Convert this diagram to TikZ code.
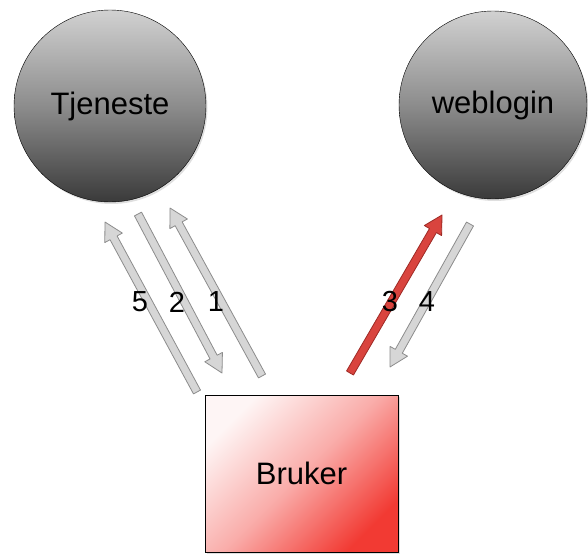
\documentclass[tikz,border=0pt]{standalone}
\usepackage[dvipsnames]{xcolor}
\usepackage{fontspec}
\setmainfont{Liberation Sans}
\usepackage{tikz}
\usetikzlibrary{calc,shadows}

\definecolor{ballgray}{HTML}{3A3A3A}
\definecolor{arrowfill}{HTML}{D6D6D6}
\definecolor{arrowedge}{HTML}{8C8C8C}
\definecolor{loginred}{HTML}{D9443E}
\definecolor{loginedge}{HTML}{9E2A25}
\definecolor{userred}{HTML}{F23A33}

\newcommand{\fatarrow}[4]{%
  \coordinate (fa-h) at ($(#2)!18pt!(#1)$);
  \filldraw[fill=#3, draw=#4, line width=0.8pt, line join=round]
    ($(#1)!4pt!90:(#2)$) -- ($(fa-h)!4pt!-90:(#1)$) -- ($(fa-h)!10pt!-90:(#1)$) -- (#2)
    -- ($(fa-h)!10pt!90:(#1)$) -- ($(fa-h)!4pt!90:(#1)$) -- ($(#1)!4pt!-90:(#2)$) -- cycle;
}

\tikzset{
  server/.style={circle, draw=black, thin, inner sep=0pt, minimum size=#1,
    top color=black!18, bottom color=ballgray, middle color=black!45,
    drop shadow={opacity=0.25, shadow xshift=1.5pt, shadow yshift=-2pt}},
  user/.style={rectangle, draw=black, thin, inner sep=0pt,
    minimum width=193pt, minimum height=157pt,
    top color=userred!5, bottom color=userred, middle color=userred!42, shading angle=45,
    drop shadow={opacity=0.25, shadow xshift=1.5pt, shadow yshift=-2pt}},
  bigtext/.style={font=\fontsize{31}{36}\selectfont},
  steplabel/.style={font=\fontsize{29}{34}\selectfont, inner sep=0pt}
}

\begin{document}
\begin{tikzpicture}[x=1pt, y=-1pt]
\useasboundingbox (0,0) rectangle (588,554);

\node[server=192pt, bigtext] (tjeneste) at (110,106) {Tjeneste};
\node[server=188pt, bigtext] (weblogin) at (493,105) {weblogin};
\node[user, bigtext] (bruker) at (301.5,473.5) {Bruker};

\coordinate (a1s) at (262,376); \coordinate (a1e) at (170,208);
\coordinate (a2s) at (138,214); \coordinate (a2e) at (222,373);
\coordinate (a3s) at (350,373); \coordinate (a3e) at (442,215);
\coordinate (a4s) at (470,224); \coordinate (a4e) at (390,367);
\coordinate (a5s) at (197,392); \coordinate (a5e) at (105,222);

\foreach \s/\e/\f/\d in {a1s/a1e/arrowfill/arrowedge, a2s/a2e/arrowfill/arrowedge,
  a3s/a3e/loginred/loginedge, a4s/a4e/arrowfill/arrowedge, a5s/a5e/arrowfill/arrowedge}
  \fatarrow{\s}{\e}{\f}{\d};

\foreach \n/\x in {5/140, 2/177, 1/216, 3/390, 4/427}
  \node[steplabel] (step\n) at (\x,302) {\n};

\end{tikzpicture}
\end{document}
